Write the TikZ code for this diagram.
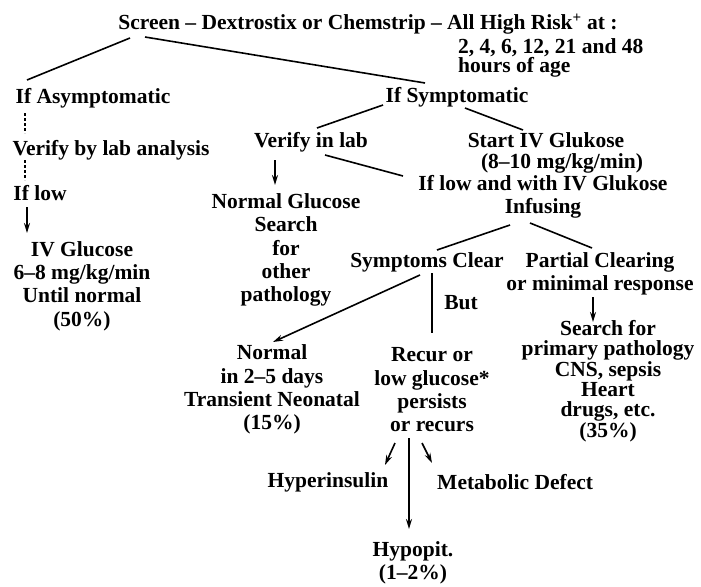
\documentclass[tikz,border=0pt]{standalone}
\usepackage{fontspec}
\setmainfont{Liberation Serif}
\usetikzlibrary{arrows.meta,calc}
\tikzset{
  txt/.style={inner sep=0pt, font=\fontsize{21.5}{23.3}\selectfont\bfseries, align=center},
  ln/.style={line width=1.6pt},
  arr/.style={line width=1.6pt, -{Stealth[length=10pt,width=6pt]}},
  dsh/.style={line width=1.2pt, dash pattern=on 3pt off 2pt}
}
\begin{document}
\begin{tikzpicture}[x=1pt,y=-1pt]
\useasboundingbox (0,0) rectangle (701,586);
% nodes
\node[txt] (title) at (368,24) {Screen -- Dextrostix or Chemstrip -- All High Risk\textsuperscript{+} at :};
\node[txt, anchor=west, align=left, font=\fontsize{21.5}{16.5}\selectfont\bfseries] (hours) at (458,58) {2, 4, 6, 12, 21 and 48\\hours of age};
\node[txt] (asym) at (93,98) {If Asymptomatic};
\node[txt] (sym) at (457,97) {If Symptomatic};
\node[txt] (verlab) at (111,150) {Verify by lab analysis};
\node[txt] (iflow) at (40,193) {If low};
\node[txt] (ivg) at (82,286) {IV Glucose\\6--8 mg/kg/min\\Until normal\\(50\%)};
\node[txt] (verin) at (311,142) {Verify in lab};
\node[txt] (normg) at (286,250) {Normal Glucose\\Search\\for\\other\\pathology};
\node[txt] (start) at (546,140) {Start IV Glukose};
\node[txt] (rate) at (562,163) {(8--10 mg/kg/min)};
\node[txt] (inf) at (543,196.5) {If low and with IV Glukose\\Infusing};
\node[txt] (symclear) at (427,262) {Symptoms Clear};
\node[txt] (partial) at (600,273.5) {Partial Clearing\\or minimal response};
\node[txt] (but) at (461,303) {But};
\node[txt] (normal) at (272,389.5) {Normal\\in 2--5 days\\Transient Neonatal\\(15\%)};
\node[txt] (recur) at (432,390) {Recur or\\low glucose*\\persists\\or recurs};
\node[txt, font=\fontsize{21.5}{20.4}\selectfont\bfseries] (search) at (608,381) {Search for\\primary pathology\\CNS, sepsis\\Heart\\drugs, etc.\\(35\%)};
\node[txt] (hyper) at (328,482) {Hyperinsulin};
\node[txt, anchor=west] (meta) at (437,482) {Metabolic Defect};
\node[txt] (hypopit) at (413,562.5) {Hypopit.\\(1--2\%)};
% connectors
\draw[ln] ($(title)+(-238,14)$) -- ($(asym)+(-66,-18)$);
\draw[ln] ($(title)+(-223,13)$) -- ($(sym)+(-32,-14)$);
\draw[dsh] ($(asym)+(-68,15)$) -- ($(verlab)+(-86,-17)$);
\draw[dsh] ($(verlab)+(-86,10)$) -- ($(iflow)+(-15,-13)$);
\draw[arr] ($(iflow)+(-13,14)$) -- ($(ivg)+(-55,-53)$);
\draw[ln] ($(sym)+(-74,8)$) -- ($(verin)+(6,-14)$);
\draw[ln] ($(sym)+(8,11)$) -- ($(start)+(-23,-10)$);
\draw[ln] ($(verin)+(14,13)$) -- ($(inf)+(-140,-20.5)$);
\draw[arr] ($(verin)+(-36,18)$) -- ($(normg)+(-11,-65)$);
\draw[ln] ($(inf)+(-33,28.5)$) -- ($(symclear)+(10,-12)$);
\draw[ln] ($(inf)+(-13,26.5)$) -- ($(partial)+(-8,-25.5)$);
\draw[arr] ($(symclear)+(-7,13)$) -- ($(normal)+(1,-47.5)$);
\draw[ln] ($(symclear)+(5,11)$) -- ($(recur)+(0,-57)$);
\draw[arr] ($(partial)+(-7,23.5)$) -- ($(search)+(-15,-59)$);
\draw[arr] ($(recur)+(-37,53)$) -- ($(hyper)+(57,-17)$);
\draw[arr] ($(recur)+(-23,48)$) -- ($(hypopit)+(-4,-33.5)$);
\draw[arr] ($(recur)+(-10,53)$) -- ($(meta.west)+(-5,-19)$);
\end{tikzpicture}
\end{document}
